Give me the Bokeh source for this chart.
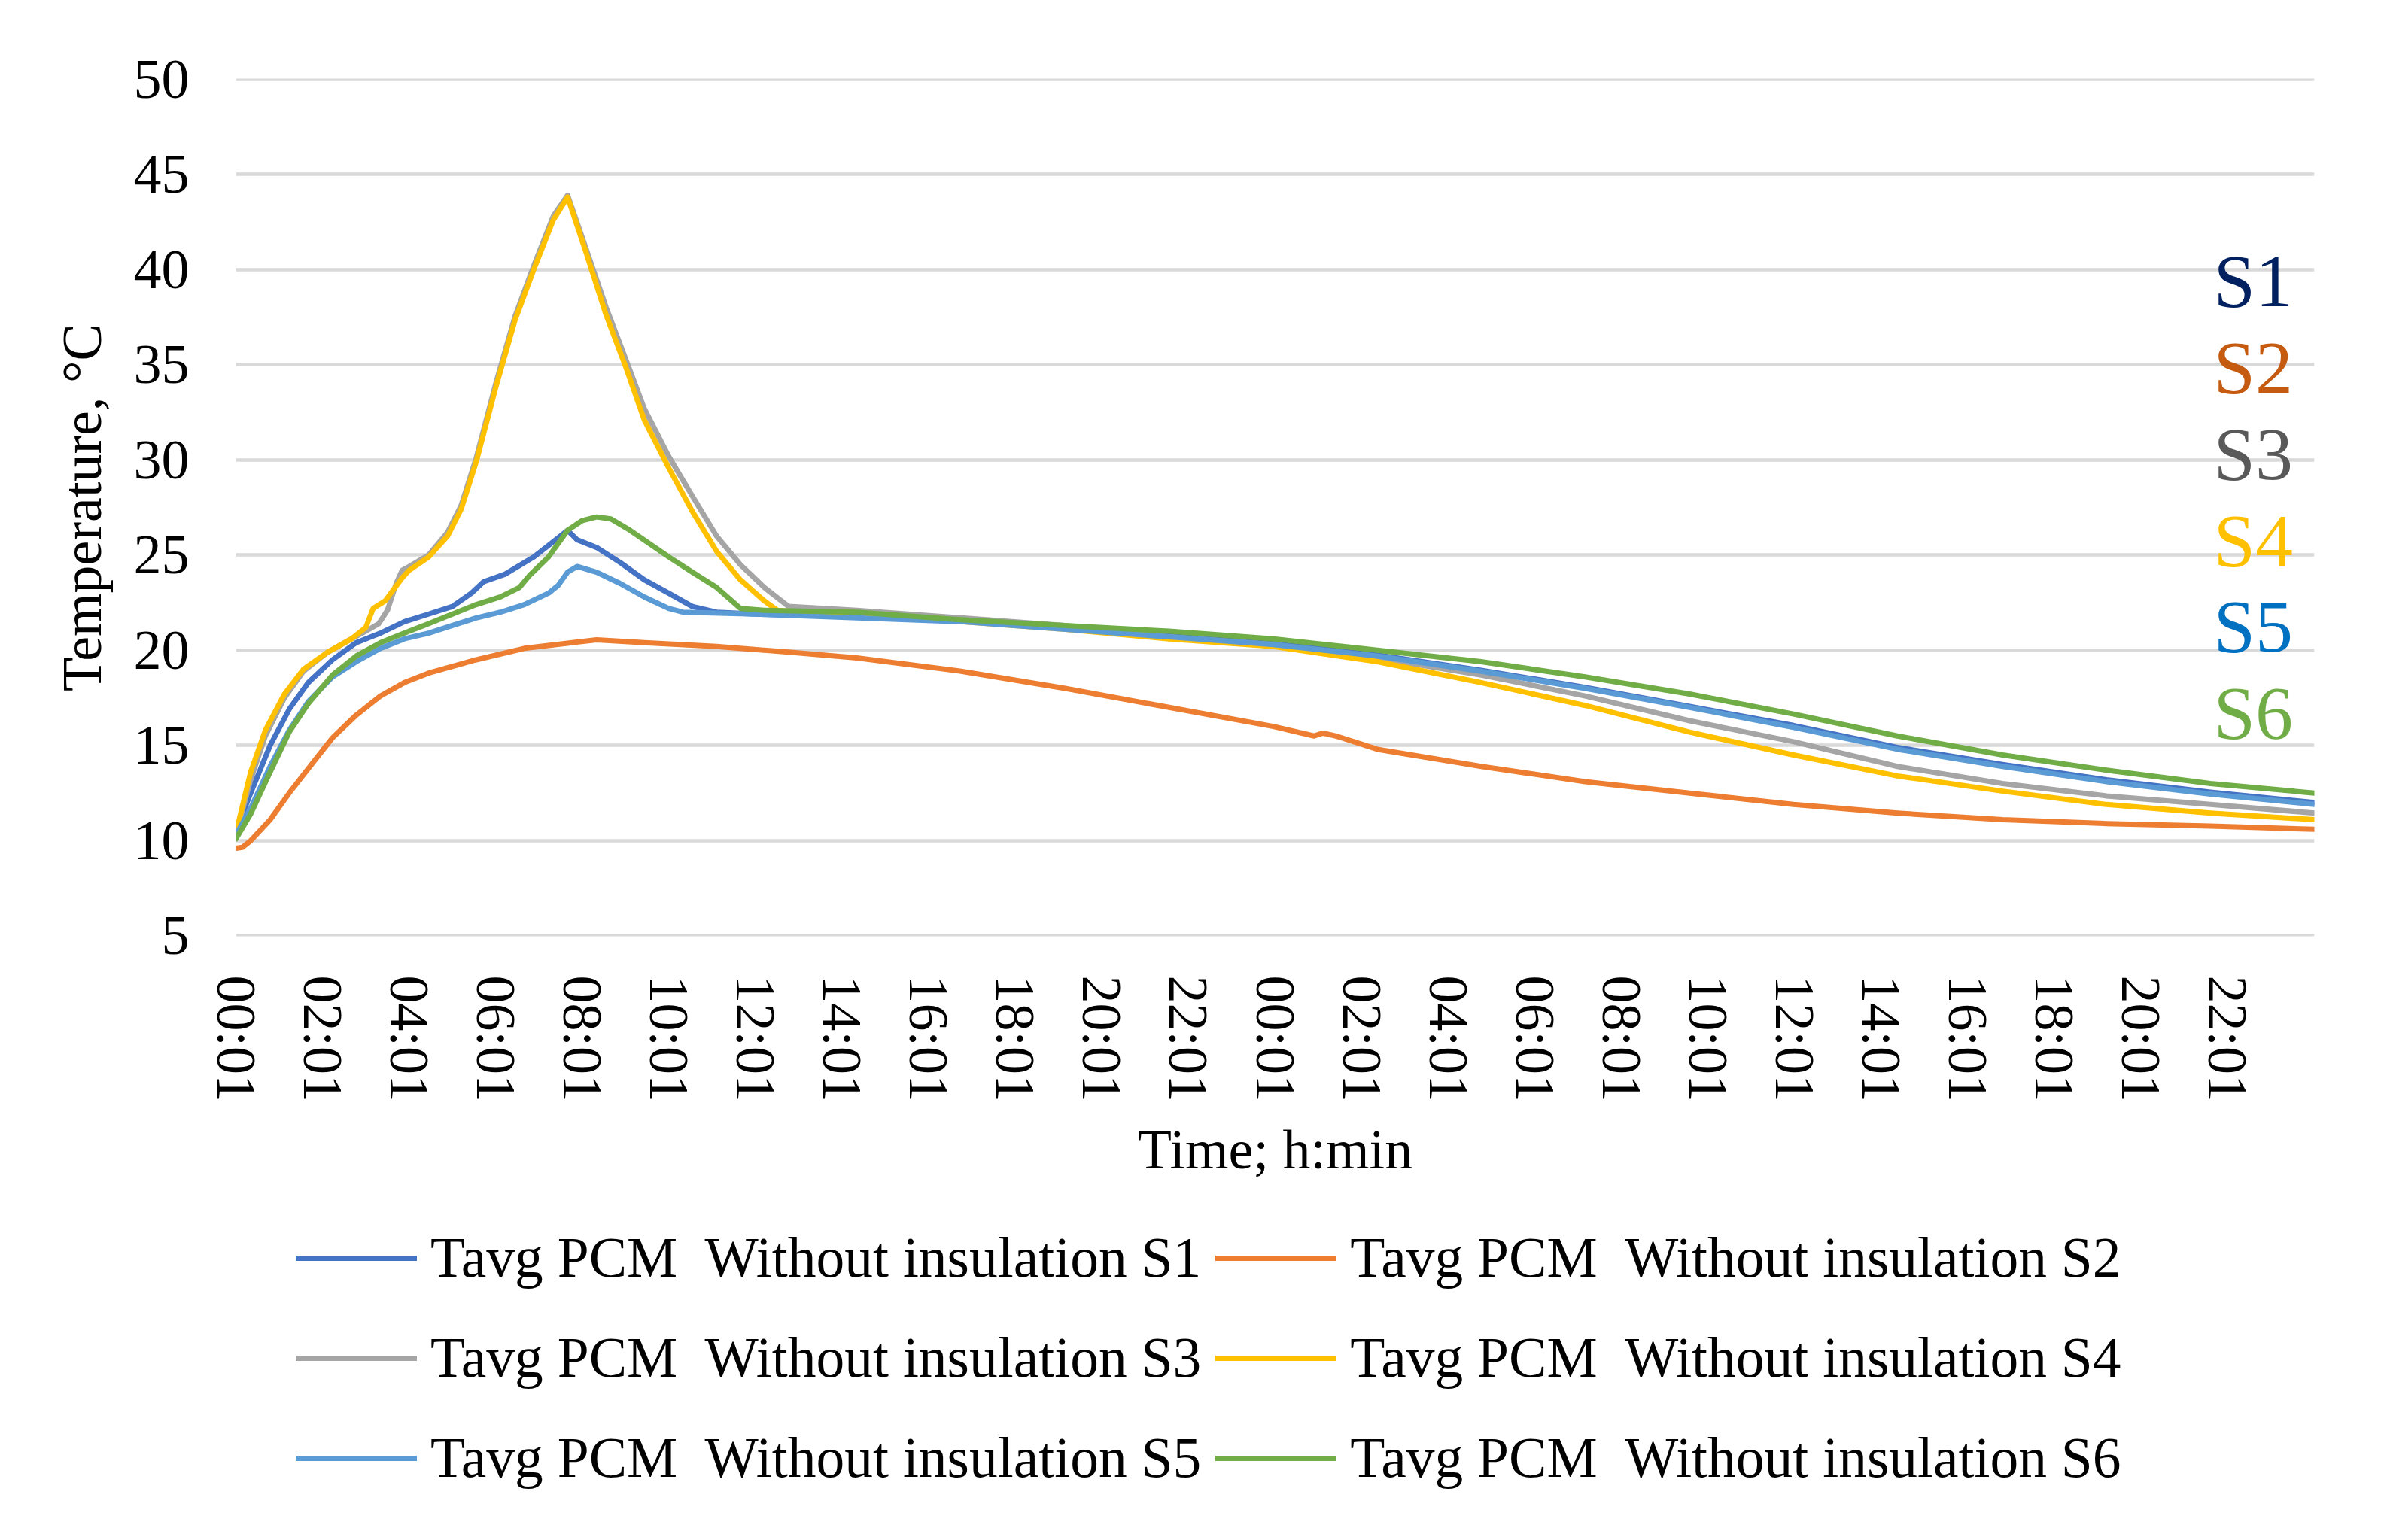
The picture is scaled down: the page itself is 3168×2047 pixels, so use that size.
from bokeh.plotting import figure
from bokeh.models import FixedTicker, Legend, LegendItem, ColumnDataSource
from bokeh.layouts import column
from bokeh.core.properties import value
from bokeh.embed import file_html
from bokeh.resources import INLINE

FONT = "Liberation Serif"

# ---------------- data ----------------
tick_hours = list(range(0, 48, 2))
tick_labels = ["00:01", "02:01", "04:01", "06:01", "08:01", "10:01", "12:01",
               "14:01", "16:01", "18:01", "20:01", "22:01"] * 2
y_ticks = [5, 10, 15, 20, 25, 30, 35, 40, 45, 50]

s1_h = [0, 0.34, 0.79, 1.23, 1.67, 2.23, 2.78, 3.34, 3.89, 4.45, 5.0, 5.44, 5.72, 6.22, 6.88,
        7.33, 7.66, 7.88, 8.33, 8.88, 9.43, 9.99, 10.54, 11.1, 12.0, 14.34, 16.75, 19.15,
        21.55, 23.96, 26.36, 28.76, 31.16, 33.57, 35.97, 38.37, 40.8, 43.2, 45.6, 48]
s1_t = [10.5, 12.5, 15.0, 16.9, 18.3, 19.5, 20.4, 20.9, 21.5, 21.9, 22.3, 23.0, 23.6, 24.0, 24.9,
        25.7, 26.3, 25.8, 25.4, 24.6, 23.7, 23.0, 22.3, 22.0, 21.9, 21.75, 21.55, 21.15,
        20.75, 20.35, 19.75, 18.95, 18.05, 17.05, 16.05, 14.9, 14.0, 13.2, 12.55, 12.0]

s2_h = [0, 0.15, 0.34, 0.79, 1.23, 1.78, 2.23, 2.78, 3.34, 3.89, 4.45, 5.55, 6.66, 7.77, 8.33,
        9.43, 11.1, 12.76, 14.34, 16.75, 19.15, 21.55, 23.96, 24.9, 25.1, 25.4, 26.36, 28.76,
        31.16, 33.57, 35.97, 38.37, 40.8, 43.2, 45.6, 48]
s2_t = [9.6, 9.65, 10.0, 11.1, 12.5, 14.1, 15.4, 16.6, 17.6, 18.3, 18.8, 19.5, 20.1, 20.4, 20.55,
        20.4, 20.2, 19.9, 19.6, 18.9, 18.0, 17.0, 16.0, 15.5, 15.65, 15.5, 14.8, 13.9,
        13.1, 12.5, 11.9, 11.45, 11.1, 10.9, 10.77, 10.6]

s3_h = [0, 0.34, 0.68, 1.12, 1.56, 2.12, 2.67, 3.0, 3.3, 3.5, 3.7, 3.84, 4.0, 4.45, 4.89, 5.2,
        5.55, 6.0, 6.44, 6.88, 7.33, 7.66, 8.1, 8.55, 9.0, 9.43, 9.99, 10.54, 11.1, 11.65, 12.2,
        12.76, 14.34, 16.75, 19.15, 21.55, 23.96, 26.36, 28.76, 31.16, 33.57, 35.97, 38.37,
        40.8, 43.2, 45.6, 48]
s3_t = [10.3, 13.2, 15.5, 17.5, 18.9, 19.9, 20.6, 21.0, 21.4, 22.1, 23.5, 24.2, 24.4, 25.0, 26.2,
        27.6, 30.1, 34.0, 37.5, 40.2, 42.8, 43.9, 41.0, 38.0, 35.3, 32.7, 30.2, 28.1, 26.0,
        24.5, 23.3, 22.3, 22.1, 21.7, 21.3, 20.7, 20.3, 19.6, 18.7, 17.6, 16.3, 15.2, 13.9,
        13.0, 12.35, 11.9, 11.45]

s4_h = [0, 0.34, 0.68, 1.12, 1.56, 2.12, 2.67, 3.0, 3.17, 3.45, 3.84, 4.0, 4.45, 4.89, 5.2, 5.55,
        6.0, 6.44, 6.88, 7.33, 7.66, 8.1, 8.55, 9.0, 9.43, 9.99, 10.54, 11.1, 11.65, 12.2, 12.5,
        14.34, 16.75, 19.15, 21.55, 23.96, 26.36, 28.76, 31.16, 33.57, 35.97, 38.37, 40.8,
        43.2, 45.6, 48]
s4_t = [10.4, 13.6, 15.8, 17.7, 19.0, 19.9, 20.6, 21.2, 22.2, 22.6, 23.8, 24.2, 24.9, 26.0, 27.4,
        29.9, 33.8, 37.3, 40.0, 42.6, 43.8, 40.8, 37.6, 34.9, 32.1, 29.6, 27.3, 25.2, 23.7,
        22.6, 22.1, 21.8, 21.5, 21.1, 20.6, 20.2, 19.4, 18.3, 17.1, 15.7, 14.5, 13.4, 12.6,
        11.9, 11.45, 11.1]

s5_h = [0, 0.34, 0.79, 1.23, 1.67, 2.23, 2.78, 3.34, 3.89, 4.45, 5.0, 5.55, 6.11, 6.66, 7.22,
        7.44, 7.66, 7.88, 8.33, 8.88, 9.43, 9.99, 10.32, 12.0, 14.34, 16.75, 19.15, 21.55,
        23.96, 26.36, 28.76, 31.16, 33.57, 35.97, 38.37, 40.8, 43.2, 45.6, 48]
s5_t = [10.3, 11.7, 13.9, 15.8, 17.3, 18.6, 19.4, 20.1, 20.6, 20.9, 21.3, 21.7, 22.0, 22.4, 23.0,
        23.4, 24.1, 24.4, 24.1, 23.5, 22.8, 22.2, 22.0, 21.9, 21.7, 21.5, 21.1, 20.7,
        20.3, 19.7, 18.9, 18.0, 17.0, 15.95, 14.8, 13.9, 13.1, 12.45, 11.9]

s6_h = [0, 0.34, 0.79, 1.23, 1.67, 2.23, 2.78, 3.34, 3.89, 4.45, 5.0, 5.55, 6.11, 6.55, 6.77,
        7.22, 7.66, 7.99, 8.33, 8.66, 9.1, 9.55, 10.0, 10.54, 11.1, 11.65, 12.2, 14.34, 16.75,
        19.15, 21.55, 23.96, 26.36, 28.76, 31.16, 33.57, 35.97, 38.37, 40.8, 43.2, 45.6, 48]
s6_t = [10.1, 11.4, 13.6, 15.7, 17.2, 18.7, 19.7, 20.4, 20.9, 21.4, 21.9, 22.4, 22.8, 23.3, 23.9,
        24.9, 26.3, 26.8, 27.0, 26.9, 26.3, 25.6, 24.9, 24.1, 23.3, 22.2, 22.1, 22.0, 21.6,
        21.3, 21.0, 20.6, 20.0, 19.4, 18.6, 17.7, 16.65, 15.5, 14.5, 13.7, 13.0, 12.5]

series_names = ["Tavg PCM  Without insulation S1", "Tavg PCM  Without insulation S2",
                "Tavg PCM  Without insulation S3", "Tavg PCM  Without insulation S4",
                "Tavg PCM  Without insulation S5", "Tavg PCM  Without insulation S6"]
series_colors = ["#4472C4", "#ED7D31", "#A5A5A5", "#FFC000", "#5B9BD5", "#70AD47"]

tag_texts = ["S1", "S2", "S3", "S4", "S5", "S6"]
tag_colors = ["#002060", "#C55A11", "#595959", "#FFC000", "#0070C0", "#70AD47"]
tag_hour = 45.67
tag_temps = [39.38, 34.86, 30.32, 25.78, 21.26, 16.70]

# placeholder (not-a-number) data for the legend-only line renderers
legend_blank = [float("nan")]

# ---------------- main figure ----------------
W = 3150
p = figure(width=W, height=1600, x_range=(0, 48), y_range=(4.98, 50.02),
           output_backend="svg", toolbar_location=None,
           min_border_left=313, min_border_right=75, min_border_top=104,
           min_border_bottom=356)
p.outline_line_color = None
p.background_fill_color = "white"
p.border_fill_color = "white"

p.xgrid.grid_line_color = None
p.ygrid.grid_line_color = "#D9D9D9"
p.ygrid.grid_line_width = 4.5

p.yaxis.ticker = FixedTicker(ticks=y_ticks)
p.xaxis.ticker = FixedTicker(ticks=tick_hours)
p.xaxis.major_label_overrides = {h: lab for h, lab in zip(tick_hours, tick_labels)}
p.xaxis.major_label_orientation = "vertical"

for ax in (p.xaxis[0], p.yaxis[0]):
    ax.axis_line_color = None
    ax.major_tick_line_color = None
    ax.minor_tick_line_color = None
    ax.major_tick_out = 0
    ax.major_tick_in = 0
    ax.major_label_text_font = FONT
    ax.major_label_text_font_size = "74px"
    ax.major_label_text_color = "black"
    ax.axis_label_text_font = FONT
    ax.axis_label_text_font_size = "74px"
    ax.axis_label_text_font_style = "normal"
    ax.axis_label_text_color = "black"

p.yaxis.major_label_standoff = 62
p.xaxis.major_label_standoff = 52
p.yaxis.axis_label = "Temperature, °C"
p.xaxis.axis_label = "Time; h:min"
p.yaxis.axis_label_standoff = 25
p.xaxis.axis_label_standoff = 19

all_h = [s1_h, s2_h, s3_h, s4_h, s5_h, s6_h]
all_t = [s1_t, s2_t, s3_t, s4_t, s5_t, s6_t]
for h, t, col in zip(all_h, all_t, series_colors):
    src = ColumnDataSource(dict(h=h, t=t))
    p.line("h", "t", source=src, line_color=col, line_width=7,
           line_join="round", line_cap="round")

tag_src = ColumnDataSource(dict(x=[tag_hour] * len(tag_texts), y=tag_temps,
                                text=tag_texts, color=tag_colors))
p.text("x", "y", text="text", source=tag_src, text_color="color",
       text_font=value(FONT), text_font_size="100px",
       text_align="left", text_baseline="middle")

# ---------------- legend strip ----------------
lf = figure(width=W, height=430, x_range=(0, 1), y_range=(0, 1),
            output_backend="svg", toolbar_location=None,
            min_border_left=313, min_border_right=75, min_border_top=0,
            min_border_bottom=0)
lf.axis.visible = False
lf.grid.visible = False
lf.outline_line_color = None
lf.background_fill_color = "white"
lf.border_fill_color = "white"

items = []
for name, col in zip(series_names, series_colors):
    r = lf.line(x=legend_blank, y=legend_blank, line_color=col, line_width=7,
                line_cap="round")
    items.append(LegendItem(label=name, renderers=[r]))

legend = Legend(items=items, location=(80, 35), orientation="horizontal", ncols=2,
                label_text_font=FONT, label_text_font_size="75.5px",
                label_text_color="black", label_standoff=18,
                glyph_width=161, glyph_height=114, label_height=114,
                spacing=19, padding=0, margin=0,
                border_line_color=None, background_fill_alpha=0)
lf.add_layout(legend, "center")

layout = column(p, lf, spacing=0)
open("out.html", "w").write(file_html(layout, INLINE))
